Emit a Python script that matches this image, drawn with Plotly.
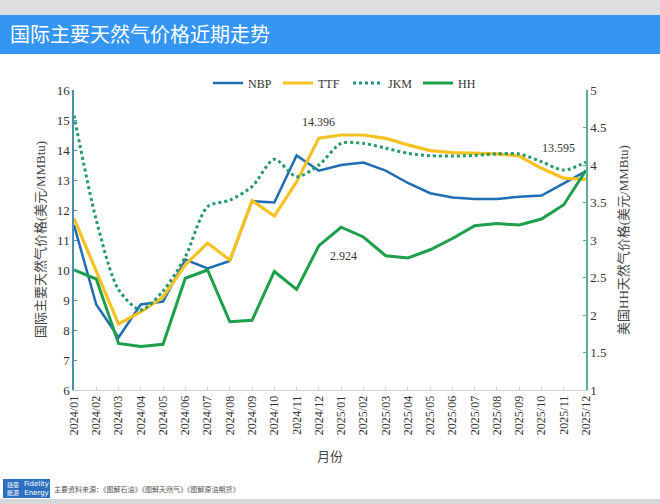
import plotly.graph_objects as go

months = ["2024/01", "2024/02", "2024/03", "2024/04", "2024/05", "2024/06",
          "2024/07", "2024/08", "2024/09", "2024/10", "2024/11", "2024/12",
          "2025/01", "2025/02", "2025/03", "2025/04", "2025/05", "2025/06",
          "2025/07", "2025/08", "2025/09", "2025/10", "2025/11", "2025/12"]

nbp = [11.5, 8.85, 7.75, 8.85, 8.95, 10.35, 10.05, 10.3, 12.3, 12.25, 13.82, 13.31,
       13.5, 13.58, 13.31, 12.9, 12.56, 12.42, 12.37, 12.37, 12.44, 12.48, 12.89, 13.3]
ttf = [11.72, 9.95, 8.2, 8.6, 9.1, 10.17, 10.9, 10.33, 12.31, 11.8, 12.94, 14.396,
       14.5, 14.5, 14.39, 14.17, 13.98, 13.91, 13.89, 13.87, 13.8, 13.39, 13.06, 13.02]
jkm = [15.15, 11.67, 9.35, 8.67, 9.3, 10.44, 12.11, 12.33, 12.78, 13.69, 13.11, 13.5,
       14.22, 14.22, 14.06, 13.89, 13.81, 13.8, 13.82, 13.87, 13.87, 13.61, 13.33, 13.595]
hh = [2.6, 2.48, 1.62, 1.58, 1.61, 2.49, 2.6, 1.91, 1.93, 2.58, 2.34, 2.924,
      3.17, 3.04, 2.79, 2.76, 2.87, 3.02, 3.19, 3.22, 3.2, 3.28, 3.47, 3.93]

left_ticks = [6, 7, 8, 9, 10, 11, 12, 13, 14, 15, 16]
right_ticks = [1, 1.5, 2, 2.5, 3, 3.5, 4, 4.5, 5]
right_ticktext = ["1", "1.5", "2", "2.5", "3", "3.5", "4", "4.5", "5"]

FONT = "Liberation Serif, Noto Sans CJK SC, serif"
CJK = "Noto Sans CJK SC, sans-serif"

# plot area in pixels
L, R, T, B = 74, 586, 90, 390
W, H = 660, 504
def px(x):
    return (x - L) / (R - L)
def py(y):
    return (B - y) / (B - T)

fig = go.Figure()
fig.add_trace(go.Scatter(x=months, y=nbp, name="NBP", mode="lines",
                         line=dict(color="#1f6db3", width=2.5)))
fig.add_trace(go.Scatter(x=months, y=ttf, name="TTF", mode="lines",
                         line=dict(color="#f6c223", width=3.2)))
fig.add_trace(go.Scatter(x=months, y=jkm, name="JKM", mode="lines",
                         line=dict(color="#22996e", width=3, dash="dot", shape="spline", smoothing=0.8)))
fig.add_trace(go.Scatter(x=months, y=hh, name="HH", mode="lines", yaxis="y2",
                         line=dict(color="#1d9f4b", width=3)))

fig.update_layout(
    width=W, height=H,
    margin=dict(l=L, r=W - R, t=T, b=H - B),
    paper_bgcolor="white", plot_bgcolor="white",
    font=dict(family=FONT, size=13, color="#333333"),
    showlegend=True,
    legend=dict(orientation="h", x=px(208), y=py(83), xanchor="left", yanchor="middle",
                font=dict(family=FONT, size=12, color="#333333"),
                entrywidth=25, entrywidthmode="pixels", itemwidth=30,
                bgcolor="rgba(0,0,0,0)"),
    xaxis=dict(type="category", range=[0, 23], showgrid=False, zeroline=False,
               showline=True, linecolor="#d0d0d0", linewidth=1,
               ticks="inside", ticklen=3, tickcolor="#d0d0d0",
               tickangle=-90, tickfont=dict(family=FONT, size=12, color="#333333")),
    yaxis=dict(range=[6, 16], tickvals=left_ticks, showgrid=False, zeroline=False,
               showline=True, linecolor="#4d8fb3", linewidth=1.5,
               ticks="inside", ticklen=3, tickcolor="#4d8fb3",
               tickfont=dict(family=FONT, size=13, color="#333333")),
    yaxis2=dict(range=[1, 5], tickvals=right_ticks, ticktext=right_ticktext,
                overlaying="y", side="right", showgrid=False, zeroline=False,
                showline=True, linecolor="#5aae9c", linewidth=1.5,
                ticks="inside", ticklen=3, tickcolor="#5aae9c",
                tickfont=dict(family=FONT, size=13, color="#333333")),
)

shapes = [
    dict(type="rect", xref="paper", yref="paper", x0=px(0), x1=px(W), y0=py(0), y1=py(15),
         fillcolor="#dcdee0", line=dict(width=0), layer="below"),
    dict(type="rect", xref="paper", yref="paper", x0=px(0), x1=px(W), y0=py(15), y1=py(54),
         fillcolor="#3595f3", line=dict(width=0), layer="below"),
    dict(type="rect", xref="paper", yref="paper", x0=px(0), x1=px(W), y0=py(499), y1=py(504),
         fillcolor="#d5d7d9", line=dict(width=0), layer="below"),
    dict(type="rect", xref="paper", yref="paper", x0=px(3), x1=px(50), y0=py(479), y1=py(498),
         fillcolor="#2f6fbf", line=dict(width=0), layer="below"),
]

annotations = [
    dict(text="国际主要天然气价格近期走势", xref="paper", yref="paper", x=px(8), y=py(34),
         xanchor="left", yanchor="middle", showarrow=False,
         font=dict(family=CJK, size=20, color="white")),
    dict(text="国际主要天然气价格(美元/MMBtu)", xref="paper", yref="paper", x=px(40), y=py(240),
         textangle=-90, showarrow=False, xanchor="center", yanchor="middle",
         font=dict(family=FONT, size=13, color="#444444")),
    dict(text="美国HH天然气价格(美元/MMBtu)", xref="paper", yref="paper", x=px(623), y=py(240),
         textangle=-90, showarrow=False, xanchor="center", yanchor="middle",
         font=dict(family=FONT, size=13, color="#444444")),
    dict(text="月份", xref="paper", yref="paper", x=px(330), y=py(456),
         showarrow=False, xanchor="center", yanchor="middle",
         font=dict(family=FONT, size=13, color="#444444")),
    dict(text="14.396", xref="x", yref="y", x=months[11], y=ttf[11],
         yshift=16, showarrow=False, font=dict(family=FONT, size=12, color="#333333")),
    dict(text="13.595", xref="x", yref="y", x=months[23], y=jkm[23],
         xshift=-28, yshift=14, showarrow=False, font=dict(family=FONT, size=12, color="#333333")),
    dict(text="2.924", xref="x", yref="y2", x=months[11], y=hh[11],
         xshift=25, yshift=-10, showarrow=False, font=dict(family=FONT, size=12, color="#333333")),
    dict(text="捷思<br>能源", xref="paper", yref="paper", x=px(13), y=py(488.5),
         showarrow=False, xanchor="center", yanchor="middle",
         font=dict(family=CJK, size=6, color="white")),
    dict(text="Fidelity<br>Energy", xref="paper", yref="paper", x=px(36), y=py(488.5),
         showarrow=False, xanchor="center", yanchor="middle",
         font=dict(family="DejaVu Sans, sans-serif", size=7, color="white")),
    dict(text="主要资料来源：《图解石油》《图解天然气》《图解原油期货》", xref="paper", yref="paper",
         x=px(52), y=py(489), showarrow=False, xanchor="left", yanchor="middle",
         font=dict(family=CJK, size=7, color="#555555")),
]

fig.update_layout(shapes=shapes, annotations=annotations)
fig.write_html("out.html", config={"displayModeBar": False},
               post_script="document.body.style.margin='0';document.body.style.padding='0';"
                           "document.body.style.overflow='hidden';")
